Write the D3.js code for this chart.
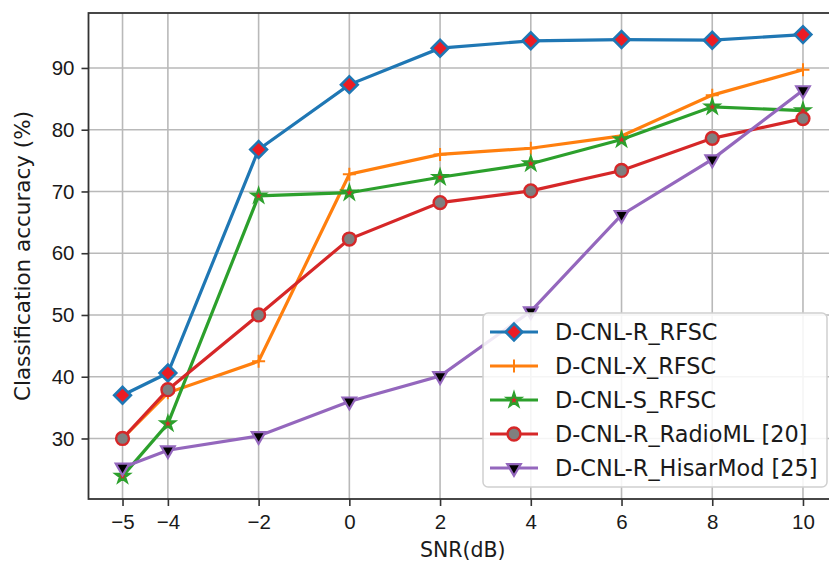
<!DOCTYPE html>
<html>
<head>
<meta charset="utf-8">
<script src="https://cdn.jsdelivr.net/npm/d3@7"></script>
<style>
  body { margin: 0; background: #fff; }
  svg { display: block; font-family: "DejaVu Sans", sans-serif; }
  .grid line { stroke: #b9b9b9; stroke-width: 1.6; }
  .axis path { display: none; }
  .axis line { stroke: #333; stroke-width: 1.6; }
  .axis text { font-size: 20.5px; fill: #1a1a1a; }
</style>
</head>
<body>
<svg id="chart" width="829" height="565"></svg>
<script>
// SNR values (dB) on the x axis
var snr = [-5, -4, -2, 0, 2, 4, 6, 8, 10];
var xTicks = [-5, -4, -2, 0, 2, 4, 6, 8, 10];
var yTicks = [30, 40, 50, 60, 70, 80, 90];

// accuracy (%) per model
var rRfsc     = [37.0, 40.6, 76.8, 87.3, 93.2, 94.4, 94.6, 94.5, 95.4];
var xRfsc     = [30.0, 37.4, 42.5, 72.8, 76.0, 77.0, 79.0, 85.6, 89.7];
var sRfsc     = [23.9, 32.4, 69.3, 69.8, 72.3, 74.5, 78.4, 83.7, 83.1];
var radioML   = [30.0, 37.9, 50.0, 62.3, 68.2, 70.1, 73.4, 78.6, 81.8];
var hisarMod  = [25.3, 28.1, 30.4, 36.0, 40.1, 50.6, 66.2, 75.2, 86.4];

var names = ["D-CNL-R_RFSC", "D-CNL-X_RFSC", "D-CNL-S_RFSC",
  "D-CNL-R_RadioML [20]", "D-CNL-R_HisarMod [25]"];

var svg = d3.select("#chart");
var margin = {left: 88.5, top: 13, right: 837, bottom: 499};

var x = d3.scaleLinear().domain([-5.75, 10.75]).range([margin.left, margin.right]);
var y = d3.scaleLinear().domain([20.2, 98.9]).range([margin.bottom, margin.top]);

// marker shapes
function plusPath(r) { return "M" + (-r) + ",0H" + r + "M0," + (-r) + "V" + r; }
var diamond = d3.symbol().type(d3.symbolSquare).size(140)();
var star = d3.symbol().type(d3.symbolStar).size(58)();
var circle = d3.symbol().type(d3.symbolCircle).size(130)();
var tri = d3.symbol().type(d3.symbolTriangle).size(80)();

var series = [
  {name: names[0], values: rRfsc, color: "#1f77b4", path: diamond, rot: 45,
    fill: "#ec1c24", edge: "#1f77b4", ew: 2.6},
  {name: names[1], values: xRfsc, color: "#ff7f0e", path: plusPath(6.5), rot: 0,
    fill: "none", edge: "#ff7f0e", ew: 2},
  {name: names[2], values: sRfsc, color: "#2ca02c", path: star, rot: 0,
    fill: "#d62728", edge: "#2ca02c", ew: 2.2},
  {name: names[3], values: radioML, color: "#d62728", path: circle, rot: 0,
    fill: "#7f7f7f", edge: "#d62728", ew: 2.4},
  {name: names[4], values: hisarMod, color: "#9467bd", path: tri, rot: 180,
    fill: "#000", edge: "#9467bd", ew: 2.2}
];

// grid
var grid = svg.append("g").attr("class", "grid");
grid.selectAll(".gx").data(xTicks).enter().append("line")
  .attr("x1", function(d) { return x(d); }).attr("x2", function(d) { return x(d); })
  .attr("y1", margin.top).attr("y2", margin.bottom);
grid.selectAll(".gy").data(yTicks).enter().append("line")
  .attr("x1", margin.left).attr("x2", margin.right)
  .attr("y1", function(d) { return y(d); }).attr("y2", function(d) { return y(d); });

// axes
svg.append("g").attr("class", "axis")
  .attr("transform", "translate(0," + margin.bottom + ")")
  .call(d3.axisBottom(x).tickValues(xTicks).tickSize(7).tickPadding(8));
svg.append("g").attr("class", "axis")
  .attr("transform", "translate(" + margin.left + ",0)")
  .call(d3.axisLeft(y).tickValues(yTicks).tickSize(7).tickPadding(7));

// frame
svg.append("rect")
  .attr("x", margin.left).attr("y", margin.top)
  .attr("width", margin.right - margin.left).attr("height", margin.bottom - margin.top)
  .attr("fill", "none").attr("stroke", "#333").attr("stroke-width", 1.8);

// lines and markers
var line = d3.line()
  .x(function(d, i) { return x(snr[i]); })
  .y(function(d) { return y(d); });

series.forEach(function(s) {
  var g = svg.append("g");
  g.append("path")
    .attr("d", line(s.values))
    .attr("fill", "none").attr("stroke", s.color).attr("stroke-width", 3.2);
  g.selectAll(".m").data(s.values).enter().append("path")
    .attr("d", s.path)
    .attr("transform", function(d, i) {
      return "translate(" + x(snr[i]) + "," + y(d) + ") rotate(" + s.rot + ")";
    })
    .attr("fill", s.fill).attr("stroke", s.edge).attr("stroke-width", s.ew);
});

// legend
var leg = svg.append("g");
leg.append("rect")
  .attr("x", 483).attr("y", 313).attr("width", 344).attr("height", 174).attr("rx", 5)
  .attr("fill", "#fff").attr("fill-opacity", 0.85)
  .attr("stroke", "#d0d0d0").attr("stroke-width", 1.5);

var item = leg.selectAll(".item").data(series).enter().append("g")
  .attr("transform", function(d, i) { return "translate(490," + (332 + i * 34) + ")"; });
item.append("line")
  .attr("x1", 0).attr("x2", 48)
  .attr("stroke", function(d) { return d.color; }).attr("stroke-width", 3.2);
item.append("path")
  .attr("d", function(d) { return d.path; })
  .attr("transform", function(d) { return "translate(24,0) rotate(" + d.rot + ")"; })
  .attr("fill", function(d) { return d.fill; })
  .attr("stroke", function(d) { return d.edge; })
  .attr("stroke-width", function(d) { return d.ew; });
item.append("text")
  .attr("x", 65).attr("dy", "0.36em")
  .attr("font-size", 22.4).attr("fill", "#1a1a1a")
  .text(function(d) { return d.name; });

// axis titles
svg.append("text")
  .attr("x", (margin.left + margin.right) / 2).attr("y", 557)
  .attr("text-anchor", "middle").attr("font-size", 20.5).attr("fill", "#1a1a1a")
  .text("SNR(dB)");
svg.append("text")
  .attr("transform", "translate(30," + ((margin.top + margin.bottom) / 2) + ") rotate(-90)")
  .attr("text-anchor", "middle").attr("font-size", 21.5).attr("fill", "#1a1a1a")
  .text("Classification accuracy (%)");
</script>
</body>
</html>
